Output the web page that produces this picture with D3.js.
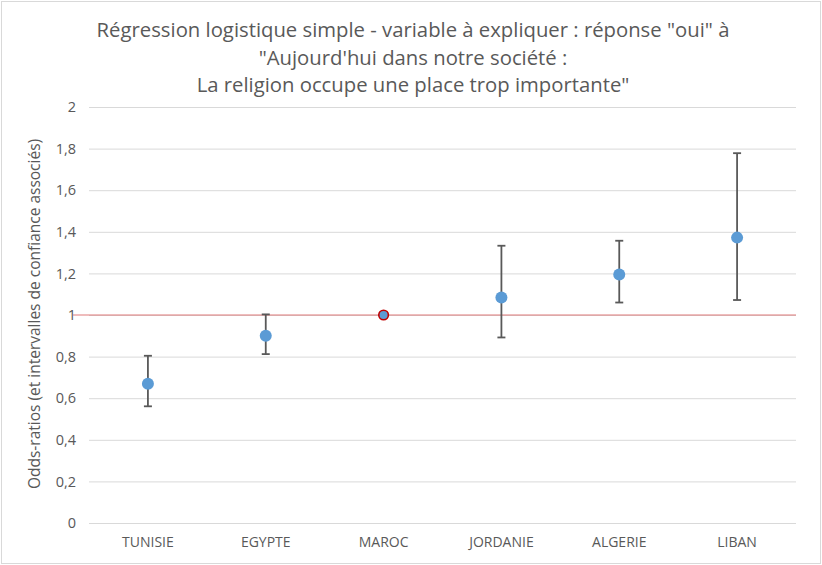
<!DOCTYPE html>
<html>
<head>
<meta charset="utf-8">
<script src="https://cdn.jsdelivr.net/npm/d3@7"></script>
<style>
  body { margin: 0; background: #fff; }
  text { font-family: "Open Sans", "Noto Sans", sans-serif; }
</style>
</head>
<body>
<script>
const width = 822;
const height = 565;

// data
const countries = ["TUNISIE", "EGYPTE", "MAROC", "JORDANIE", "ALGERIE", "LIBAN"];
const oddsRatios = [0.67, 0.90, 1, 1.084, 1.195, 1.372];
const ciLow = [0.561, 0.812, 1, 0.892, 1.06, 1.072];
const ciHigh = [0.804, 1.003, 1, 1.333, 1.357, 1.778];
const yTicks = [0, 0.2, 0.4, 0.6, 0.8, 1, 1.2, 1.4, 1.6, 1.8, 2];
const reference = "MAROC";
const titleLines = [
  "Régression logistique simple - variable à expliquer : réponse \"oui\" à",
  "\"Aujourd'hui dans notre société :",
  "La religion occupe une place trop importante\""
];

const margin = { top: 107, right: 26, bottom: 42, left: 89 };

const svg = d3.select("body").append("svg")
  .attr("width", width)
  .attr("height", height);

// chart frame
svg.append("rect")
  .attr("x", 1.5).attr("y", 1.5)
  .attr("width", width - 3).attr("height", height - 3)
  .attr("fill", "#fff")
  .attr("stroke", "#d9d9d9");

const x = d3.scaleBand()
  .domain(countries)
  .range([margin.left, width - margin.right]);

const y = d3.scaleLinear()
  .domain([0, 2])
  .range([height - margin.bottom, margin.top]);

// title
svg.append("g")
  .selectAll("text")
  .data(titleLines)
  .join("text")
  .attr("x", width / 2 + 2)
  .attr("y", (d, i) => 37 + i * 27.5)
  .attr("text-anchor", "middle")
  .attr("font-size", 20.3)
  .attr("fill", "#595959")
  .text(d => d);

// grid + y labels
const yAxis = d3.axisLeft(y)
  .tickValues(yTicks)
  .tickSize(-(width - margin.left - margin.right))
  .tickPadding(13)
  .tickFormat(d => String(d).replace(".", ","));

const gy = svg.append("g")
  .attr("transform", `translate(${margin.left},0)`)
  .call(yAxis);
gy.select(".domain").remove();
gy.selectAll(".tick line").attr("stroke", "#d9d9d9").attr("stroke-width", 1);
gy.selectAll(".tick text").attr("fill", "#595959").attr("font-size", 14.5)
  .style("font-family", "\"Open Sans\", sans-serif");

// x labels
const xAxis = d3.axisBottom(x).tickSize(0).tickPadding(14);
const gx = svg.append("g")
  .attr("transform", `translate(0,${height - margin.bottom})`)
  .call(xAxis);
gx.select(".domain").remove();
gx.selectAll(".tick text").attr("fill", "#595959").attr("font-size", 14)
  .style("font-family", "\"Open Sans\", sans-serif");

// y axis title
svg.append("text")
  .attr("transform", `translate(40,${y(1) - 1}) rotate(-90)`)
  .attr("text-anchor", "middle")
  .attr("font-size", 15.5)
  .attr("fill", "#595959")
  .text("Odds-ratios (et intervalles de confiance associés)");

// reference line at 1
svg.append("line")
  .attr("x1", margin.left - 16)
  .attr("x2", width - margin.right)
  .attr("y1", y(1)).attr("y2", y(1))
  .attr("stroke", "#e07b7b")
  .attr("stroke-width", 1.2);

const rows = countries.map((c, i) => ({ c, or: oddsRatios[i], lo: ciLow[i], hi: ciHigh[i] }));
const cx = d => x(d.c) + x.bandwidth() / 2;

// error bars
const bars = svg.append("g")
  .selectAll("g")
  .data(rows.filter(d => d.hi > d.lo))
  .join("g")
  .attr("stroke", "#595959")
  .attr("stroke-width", 1.8);
bars.append("line")
  .attr("x1", cx).attr("x2", cx)
  .attr("y1", d => y(d.lo)).attr("y2", d => y(d.hi));
bars.append("line")
  .attr("x1", d => cx(d) - 4).attr("x2", d => cx(d) + 4)
  .attr("y1", d => y(d.lo)).attr("y2", d => y(d.lo));
bars.append("line")
  .attr("x1", d => cx(d) - 4).attr("x2", d => cx(d) + 4)
  .attr("y1", d => y(d.hi)).attr("y2", d => y(d.hi));

// points
svg.append("g")
  .selectAll("circle")
  .data(rows)
  .join("circle")
  .attr("cx", cx)
  .attr("cy", d => y(d.or))
  .attr("r", d => d.c === reference ? 4.8 : 6)
  .attr("fill", "#5b9bd5")
  .attr("stroke", d => d.c === reference ? "#c00000" : "none")
  .attr("stroke-width", 1.6);
</script>
</body>
</html>
